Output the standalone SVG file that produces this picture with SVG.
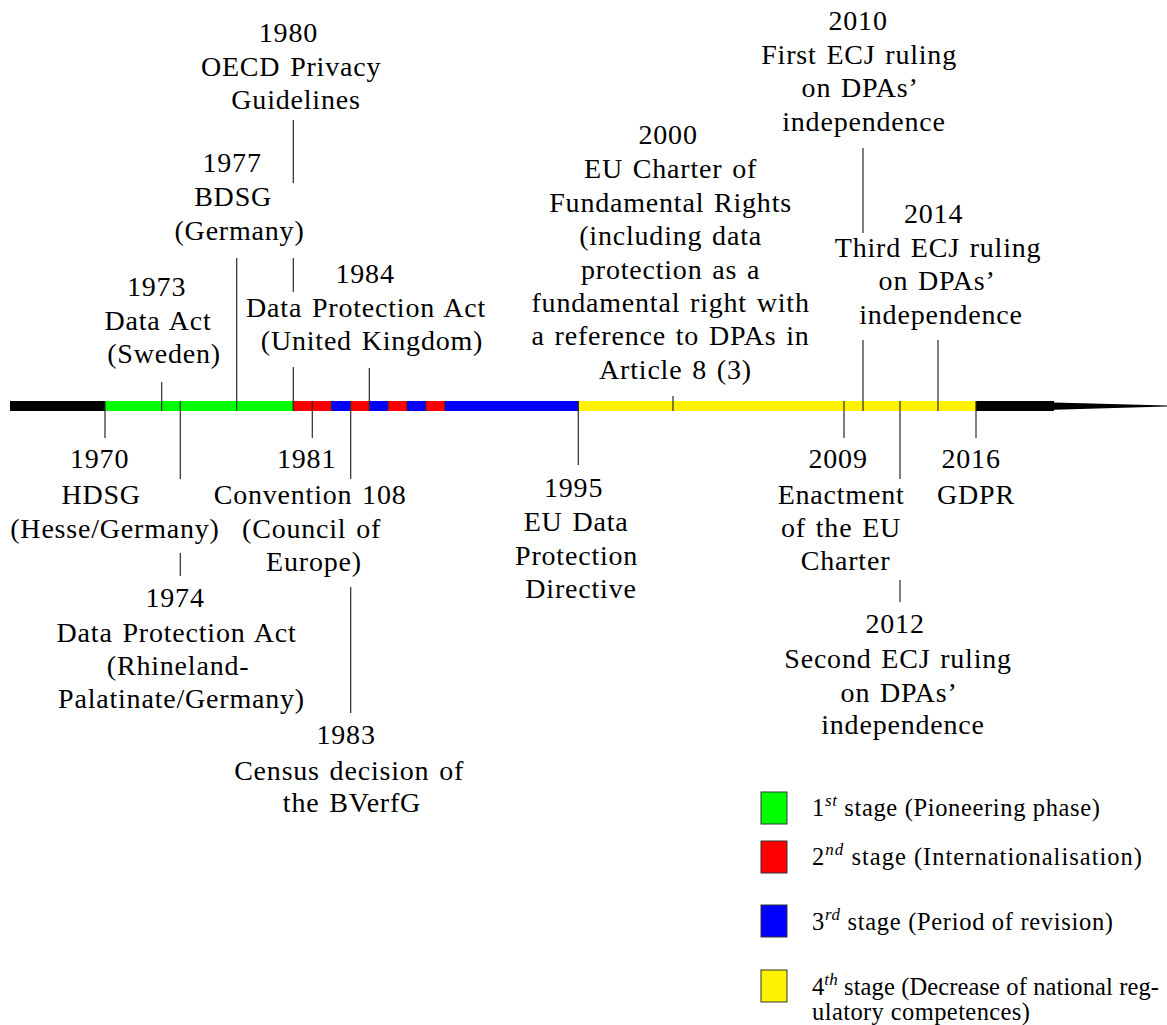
<svg xmlns="http://www.w3.org/2000/svg" width="1167" height="1025" viewBox="0 0 1167 1025">
<style>
  text.lbl { font-family: "Liberation Serif", "Times New Roman", serif; font-size: 28px; letter-spacing: 0.8px; word-spacing: 2px; fill: #000; text-anchor: middle; }
  text.leg { font-family: "Liberation Serif", "Times New Roman", serif; font-size: 24.5px; fill: #000; }
  .sup { font-style: italic; font-size: 17px; }
  .tick { stroke: #2a2a2a; stroke-width: 1.2; fill: none; }
  .sep { stroke: #222; stroke-width: 0.8; }
  .sw { stroke: #333; stroke-width: 1; }
  .cg { fill: #00ff00; } .cr { fill: #ff0000; } .cb { fill: #0000ff; } .cy { fill: #fff200; } .ck { fill: #000; }
</style>
<rect width="1167" height="1025" fill="#fff"/>

<g id="timeline">
  <rect class="ck" x="10" y="401" width="95" height="10"/>
  <rect class="cg" x="105" y="401" width="188.3" height="10"/>
  <rect class="cr" x="293.3" y="401" width="19" height="10"/>
  <rect class="cr" x="312.3" y="401" width="19" height="10"/>
  <rect class="cb" x="331.3" y="401" width="19" height="10"/>
  <rect class="cr" x="350.3" y="401" width="19" height="10"/>
  <rect class="cb" x="369.3" y="401" width="18.8" height="10"/>
  <rect class="cr" x="388.1" y="401" width="18.9" height="10"/>
  <rect class="cb" x="407" y="401" width="18.9" height="10"/>
  <rect class="cr" x="425.9" y="401" width="18.9" height="10"/>
  <rect class="cb" x="444.8" y="401" width="133.5" height="10"/>
  <rect class="cy" x="578.3" y="401" width="397.7" height="10"/>
  <polygon class="ck" points="976,401 1054,401 1054,402.5 1167,405.5 1167,406.5 1054,409.8 1054,411 976,411"/>
  <g class="sep">
    <line x1="293.3" y1="401" x2="293.3" y2="411"/>
    <line x1="331.3" y1="401" x2="331.3" y2="411"/>
    <line x1="388.1" y1="401" x2="388.1" y2="411"/>
    <line x1="407" y1="401" x2="407" y2="411"/>
    <line x1="425.9" y1="401" x2="425.9" y2="411"/>
    <line x1="444.8" y1="401" x2="444.8" y2="411"/>
    <line x1="578.3" y1="401" x2="578.3" y2="411"/>
  </g>
</g>

<g id="connectors" class="tick">
  <line x1="105" y1="401" x2="105" y2="438"/>
  <line x1="161.7" y1="382" x2="161.7" y2="411"/>
  <line x1="180.3" y1="401" x2="180.3" y2="479"/>
  <line x1="180.3" y1="553" x2="180.3" y2="576"/>
  <line x1="236.7" y1="258" x2="236.7" y2="411"/>
  <line x1="293.3" y1="120" x2="293.3" y2="183"/>
  <line x1="293.3" y1="258" x2="293.3" y2="292"/>
  <line x1="293.3" y1="367" x2="293.3" y2="411"/>
  <line x1="312.3" y1="401" x2="312.3" y2="438"/>
  <line x1="350.7" y1="401" x2="350.7" y2="479"/>
  <line x1="350.7" y1="587" x2="350.7" y2="713"/>
  <line x1="369.3" y1="368" x2="369.3" y2="411"/>
  <line x1="578.3" y1="401" x2="578.3" y2="465"/>
  <line x1="673" y1="396" x2="673" y2="411"/>
  <line x1="844" y1="401" x2="844" y2="438"/>
  <line x1="863" y1="148" x2="863" y2="233"/>
  <line x1="863" y1="340" x2="863" y2="411"/>
  <line x1="900" y1="401" x2="900" y2="479"/>
  <line x1="900" y1="580" x2="900" y2="602"/>
  <line x1="938" y1="340" x2="938" y2="411"/>
  <line x1="976" y1="401" x2="976" y2="438"/>
</g>

<g id="ev1980"><text class="lbl">
  <tspan x="293.3" y="41.7">1980</tspan>
  <tspan x="296" y="76">OECD Privacy</tspan>
  <tspan x="296" y="108.5">Guidelines</tspan>
</text></g>
<g id="ev1977"><text class="lbl">
  <tspan x="237" y="171.7">1977</tspan>
  <tspan x="238" y="206">BDSG</tspan>
  <tspan x="239.5" y="240">(Germany)</tspan>
</text></g>
<g id="ev1973"><text class="lbl">
  <tspan x="161.5" y="296">1973</tspan>
  <tspan x="163" y="330">Data Act</tspan>
  <tspan x="164" y="363">(Sweden)</tspan>
</text></g>
<g id="ev1984"><text class="lbl">
  <tspan x="370" y="283">1984</tspan>
  <tspan x="371" y="316.5">Data Protection Act</tspan>
  <tspan x="372" y="350">(United Kingdom)</tspan>
</text></g>
<g id="ev2000"><text class="lbl">
  <tspan x="673" y="144">2000</tspan>
  <tspan x="675.5" y="178">EU Charter of</tspan>
  <tspan x="675.5" y="211.5">Fundamental Rights</tspan>
  <tspan x="675.5" y="245">(including data</tspan>
  <tspan x="675.5" y="278.5">protection as a</tspan>
  <tspan x="675.5" y="312">fundamental right with</tspan>
  <tspan x="675.5" y="345">a reference to DPAs in</tspan>
  <tspan x="675.5" y="378.5">Article 8 (3)</tspan>
</text></g>
<g id="ev2010"><text class="lbl">
  <tspan x="863" y="30">2010</tspan>
  <tspan x="864" y="64">First ECJ ruling</tspan>
  <tspan x="864" y="97">on DPAs’</tspan>
  <tspan x="864" y="130.5">independence</tspan>
</text></g>
<g id="ev2014"><text class="lbl">
  <tspan x="938.5" y="222.7">2014</tspan>
  <tspan x="943" y="257">Third ECJ ruling</tspan>
  <tspan x="941" y="290">on DPAs’</tspan>
  <tspan x="941" y="323.5">independence</tspan>
</text></g>

<g id="ev1970"><text class="lbl">
  <tspan x="104.5" y="468">1970</tspan>
  <tspan x="106" y="504">HDSG</tspan>
  <tspan x="115" y="538">(Hesse/Germany)</tspan>
</text></g>
<g id="ev1974"><text class="lbl">
  <tspan x="180" y="607">1974</tspan>
  <tspan x="181.5" y="642">Data Protection Act</tspan>
  <tspan x="183" y="675">(Rhineland-</tspan>
  <tspan x="181.5" y="708">Palatinate/Germany)</tspan>
</text></g>
<g id="ev1981"><text class="lbl">
  <tspan x="311.5" y="468">1981</tspan>
  <tspan x="315" y="504">Convention 108</tspan>
  <tspan x="316.5" y="538">(Council of</tspan>
  <tspan x="314" y="571">Europe)</tspan>
</text></g>
<g id="ev1983"><text class="lbl">
  <tspan x="351" y="744">1983</tspan>
  <tspan x="354" y="780">Census decision of</tspan>
  <tspan x="352" y="812">the BVerfG</tspan>
</text></g>
<g id="ev1995"><text class="lbl">
  <tspan x="578.5" y="497">1995</tspan>
  <tspan x="581" y="531">EU Data</tspan>
  <tspan x="581.5" y="565">Protection</tspan>
  <tspan x="581" y="598">Directive</tspan>
</text></g>
<g id="ev2009"><text class="lbl">
  <tspan x="843" y="468">2009</tspan>
  <tspan x="846" y="504">Enactment</tspan>
  <tspan x="846" y="537">of the EU</tspan>
  <tspan x="845.5" y="570">Charter</tspan>
</text></g>
<g id="ev2012"><text class="lbl">
  <tspan x="900" y="633">2012</tspan>
  <tspan x="903" y="668">Second ECJ ruling</tspan>
  <tspan x="903" y="701.5">on DPAs’</tspan>
  <tspan x="903" y="733.5">independence</tspan>
</text></g>
<g id="ev2016"><text class="lbl">
  <tspan x="976" y="468">2016</tspan>
  <tspan x="976" y="504">GDPR</tspan>
</text></g>

<g id="legend">
  <g id="leg1">
    <rect class="cg sw" x="761" y="792" width="26" height="32"/>
    <text class="leg" x="812" y="816" textLength="288" lengthAdjust="spacing">1<tspan class="sup" dy="-10">st</tspan><tspan dy="10"> stage (Pioneering phase)</tspan></text>
  </g>
  <g id="leg2">
    <rect class="cr sw" x="761" y="841" width="26" height="32"/>
    <text class="leg" x="812" y="865" textLength="330" lengthAdjust="spacing">2<tspan class="sup" dy="-10">nd</tspan><tspan dy="10"> stage (Internationalisation)</tspan></text>
  </g>
  <g id="leg3">
    <rect class="cb sw" x="761" y="905" width="26" height="32"/>
    <text class="leg" x="812" y="930" textLength="301" lengthAdjust="spacing">3<tspan class="sup" dy="-10">rd</tspan><tspan dy="10"> stage (Period of revision)</tspan></text>
  </g>
  <g id="leg4">
    <rect class="cy sw" x="761" y="970" width="26" height="32"/>
    <text class="leg" x="812" y="995" textLength="347" lengthAdjust="spacing">4<tspan class="sup" dy="-10">th</tspan><tspan dy="10"> stage (Decrease of national reg-</tspan></text>
    <text class="leg" x="812" y="1020" textLength="218" lengthAdjust="spacing">ulatory competences)</text>
  </g>
</g>
</svg>
